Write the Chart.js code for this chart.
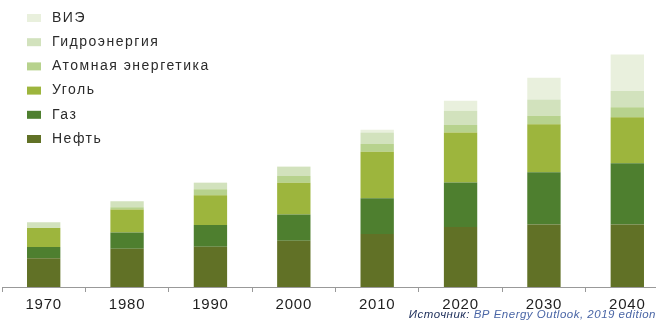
<!DOCTYPE html>
<html>
<head>
<meta charset="utf-8">
<script src="https://cdn.jsdelivr.net/npm/chart.js@4/dist/chart.umd.min.js"></script>
<style>
  html, body { margin: 0; padding: 0; background: #fff; overflow: hidden; }
  #wrap { width: 670px; height: 325px; }
</style>
</head>
<body>
<div id="wrap"><canvas id="chart" width="670" height="325"></canvas></div>
<script>
// years on the x axis
const years = ['1970', '1980', '1990', '2000', '2010', '2020', '2030', '2040'];

// primary energy by source, billion toe
const oil        = [2.22, 2.94, 3.10, 3.56, 4.08, 4.62, 4.80, 4.80];
const gas        = [0.85, 1.25, 1.67, 2.02, 2.74, 3.42, 4.02, 4.72];
const coal       = [1.46, 1.77, 2.28, 2.43, 3.59, 3.85, 3.69, 3.54];
const nuclear    = [0.03, 0.18, 0.46, 0.52, 0.59, 0.58, 0.67, 0.77];
const hydro      = [0.42, 0.46, 0.51, 0.70, 0.89, 1.08, 1.25, 1.25];
const renewables = [0.00, 0.00, 0.02, 0.05, 0.21, 0.77, 1.67, 2.80];

const seriesNames = ['Нефть', 'Газ', 'Уголь', 'Атомная энергетика', 'Гидроэнергия', 'ВИЭ'];
const seriesColors = ['#617126', '#4e7f2f', '#9db53d', '#b7d28d', '#d2e2bd', '#e9f0dd'];
const seriesData = [oil, gas, coal, nuclear, hydro, renewables];

const sourceLabel = 'Источник: ';
const sourceText = 'BP Energy Outlook, 2019 edition';

const FONT = '"Liberation Sans", Arial, sans-serif';

// legend + source note drawn straight on the canvas
const extras = {
  id: 'extras',
  beforeDraw(chart) {
    // a bit of tracking for the year labels
    chart.ctx.letterSpacing = '0.8px';
  },
  afterDraw(chart) {
    const ctx = chart.ctx;
    ctx.save();
    ctx.font = '14px ' + FONT;
    ctx.letterSpacing = '1.5px';
    ctx.textBaseline = 'middle';
    const sets = chart.data.datasets.slice().reverse();
    sets.forEach((ds, i) => {
      const y = 18 + i * 24.2;
      ctx.fillStyle = ds.backgroundColor;
      ctx.fillRect(27, y - 4, 14, 8);
      ctx.fillStyle = '#2b2b2b';
      ctx.fillText(ds.label, 52, y);
    });

    ctx.letterSpacing = '0.5px';
    ctx.font = 'italic 11.5px ' + FONT;
    ctx.textAlign = 'left';
    const w2 = ctx.measureText(sourceText).width;
    const w1 = ctx.measureText(sourceLabel).width;
    const right = 656;
    ctx.fillStyle = '#4a66a6';
    ctx.fillText(sourceText, right - w2, 315);
    ctx.fillStyle = '#22335e';
    ctx.fillText(sourceLabel, right - w2 - w1, 315);
    ctx.restore();
    ctx.letterSpacing = '0px';
  }
};

new Chart(document.getElementById('chart'), {
  type: 'bar',
  data: {
    labels: years,
    datasets: seriesData.map((d, i) => ({
      label: seriesNames[i],
      data: d,
      backgroundColor: seriesColors[i],
      borderWidth: 0,
      categoryPercentage: 1,
      barPercentage: 0.4
    }))
  },
  options: {
    responsive: false,
    animation: false,
    devicePixelRatio: 1,
    layout: { padding: { top: 27, left: 2, right: 1, bottom: 0 } },
    plugins: {
      legend: { display: false },
      tooltip: { enabled: false }
    },
    scales: {
      x: {
        stacked: true,
        afterFit: s => { s.height = 38; },
        grid: {
          offset: true,
          drawOnChartArea: false,
          tickLength: 5,
          color: '#999'
        },
        border: { color: '#999', width: 1 },
        ticks: {
          color: '#1e1e1e',
          padding: 4,
          font: { family: FONT, size: 15 }
        }
      },
      y: {
        stacked: true,
        display: false,
        min: 0,
        max: 20
      }
    }
  },
  plugins: [extras]
});
</script>
</body>
</html>
